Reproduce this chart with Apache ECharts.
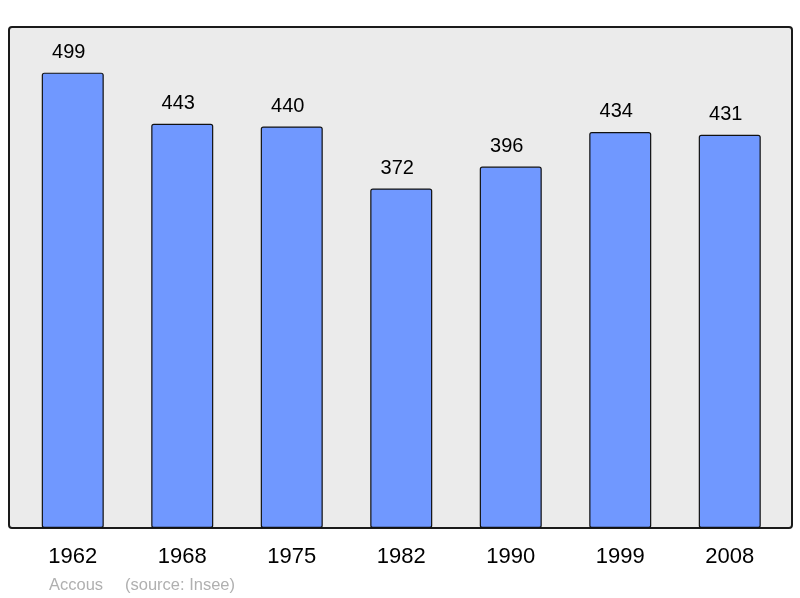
<!DOCTYPE html>
<html>
<head>
<meta charset="utf-8">
<script src="https://cdn.jsdelivr.net/npm/echarts@6/dist/echarts.min.js"></script>
<style>html,body{margin:0;padding:0;background:#fff}#c{width:800px;height:598px}</style>
</head>
<body>
<div id="c"></div>
<script>
const years = ['1962','1968','1975','1982','1990','1999','2008'];
const population = [499, 443, 440, 372, 396, 434, 431];
const placeName = 'Accous';
const sourceText = '(source: Insee)';

const chart = echarts.init(document.getElementById('c'), null, {renderer: 'canvas'});
chart.setOption({
  animation: false,
  backgroundColor: '#ffffff',
  grid: {left: 18, right: 15.5, top: 27, bottom: 70},
  xAxis: {
    type: 'category',
    data: years,
    axisLine: {show: false},
    axisTick: {show: false},
    axisLabel: {color: '#000', fontSize: 22, fontFamily: 'Liberation Sans', margin: 18}
  },
  yAxis: {
    type: 'value', min: 0, max: 549,
    show: false, splitLine: {show: false}
  },
  graphic: [
    {type: 'rect', z: -10, shape: {x: 9, y: 27, width: 783, height: 501, r: 3},
     style: {fill: '#ebebeb', stroke: '#1a1a1a', lineWidth: 2}},
    {type: 'text', left: 49, top: 577, style: {text: placeName, fill: '#b0b0b0', fontSize: 16.5, fontFamily: 'Liberation Sans'}},
    {type: 'text', left: 125, top: 577, style: {text: sourceText, fill: '#b0b0b0', fontSize: 16.5, fontFamily: 'Liberation Sans'}}
  ],
  series: [{
    type: 'bar',
    data: population,
    barWidth: 62,
    itemStyle: {color: '#7098ff', borderColor: '#111', borderWidth: 1.2, borderRadius: 2},
    label: {show: true, position: 'top', distance: 10, offset: [-4, 0], color: '#000', fontSize: 20, fontFamily: 'Liberation Sans'}
  }]
});
</script>
</body>
</html>
